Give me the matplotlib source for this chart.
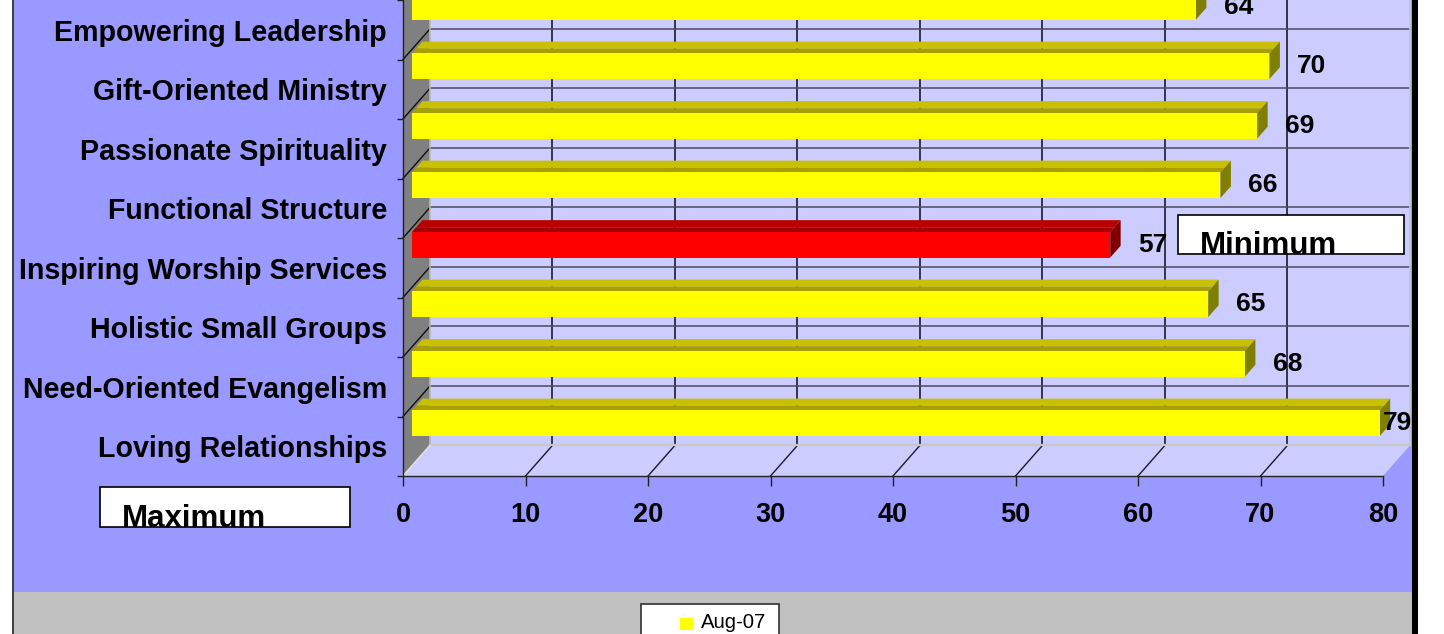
import matplotlib
matplotlib.use('Agg')
import matplotlib.pyplot as plt
from matplotlib.patches import Rectangle, Polygon
from matplotlib.lines import Line2D

# ---------------- data ----------------
categories = ['Loving Relationships', 'Need-Oriented Evangelism', 'Holistic Small Groups',
              'Inspiring Worship Services', 'Functional Structure', 'Passionate Spirituality',
              'Gift-Oriented Ministry', 'Empowering Leadership']
values = [79, 68, 65, 57, 66, 69, 70, 64]
series_name = 'Aug-07'
x_ticks = [0, 10, 20, 30, 40, 50, 60, 70, 80]
box_labels = ['Maximum', 'Minimum']

# ---------------- style ----------------
W, H = 1444, 634
plt.rcParams['font.family'] = ['Liberation Sans', 'DejaVu Sans']
BG_BLUE = '#9999FF'
WALL = '#CCCCFF'
SIDE_WALL = '#808080'
GRID = '#1a1a2a'
DX, DY = 2.2, 0.514      # full depth offset (data units)
F0, F1 = 0.333, 0.72     # bar depth range (fraction of full depth)
B0, B1 = 0.0, 0.43       # bar thickness around category
ROW_PX = 60.3
YEL = dict(front='#FFFF00', top='#C8C000', top2='#A8A000', side='#808000')
RED = dict(front='#FF0000', top='#B80000', top2='#A00000', side='#800000')

fig = plt.figure(figsize=(W / 100, H / 100), dpi=100)
fig.patch.set_facecolor('white')


def fx(px):
    return px / W


def fy(py):
    return 1 - py / H


def frect(x0, y0, x1, y1, **kw):
    r = Rectangle((fx(x0), fy(y1)), fx(x1) - fx(x0), fy(y0) - fy(y1),
                  transform=fig.transFigure, **kw)
    fig.add_artist(r)
    return r


# chart area backgrounds
frect(14, 0, 1412, 592, facecolor=BG_BLUE, edgecolor='none', zorder=-10)
frect(14, 592, 1412, 640, facecolor='#C0C0C0', edgecolor='none', zorder=-10)
frect(12, 0, 14, 640, facecolor='#404040', edgecolor='none', zorder=-9)
frect(1412, 0, 1418, 640, facecolor='black', edgecolor='none', zorder=-9)

# ---------------- axes ----------------
ax = fig.add_axes([fx(403), fy(476), fx(1383) - fx(403), 476 / H])
ax.set_xlim(0, 80)
ax.set_ylim(-0.5, -0.5 + 476 / ROW_PX)
ax.patch.set_visible(False)
TOP = 10
y0 = -0.5

# back wall
ax.add_patch(Polygon([(DX, y0 + DY), (80 + DX, y0 + DY), (80 + DX, TOP), (DX, TOP)],
                     closed=True, facecolor=WALL, edgecolor='none', clip_on=False, zorder=0.5))
# floor
ax.add_patch(Polygon([(0, y0), (80, y0), (80 + DX, y0 + DY), (DX, y0 + DY)],
                     closed=True, facecolor=WALL, edgecolor='none', clip_on=False, zorder=0.5))
# left wall
ax.add_patch(Polygon([(0, y0), (DX, y0 + DY), (DX, TOP), (0, TOP)],
                     closed=True, facecolor=SIDE_WALL, edgecolor='none', clip_on=False, zorder=0.6))

# gridlines on back wall
for t in x_ticks[1:-1]:
    ax.add_line(Line2D([t + DX, t + DX], [y0 + DY, TOP], color=GRID, lw=1.2, clip_on=False, zorder=0.8))
    ax.add_line(Line2D([t, t + DX], [y0, y0 + DY], color=GRID, lw=1.0, clip_on=False, zorder=0.8))
for k in range(1, len(categories) + 1):
    yb = k - 0.5
    ax.add_line(Line2D([DX, 80 + DX], [yb + DY, yb + DY], color='#4a4a60', lw=1.1, clip_on=False, zorder=0.8))
    ax.add_line(Line2D([0, DX], [yb, yb + DY], color='#101010', lw=1.0, clip_on=False, zorder=0.8))
# light edges
ax.add_line(Line2D([DX, 80 + DX], [y0 + DY, y0 + DY], color='#C8C8C8', lw=1.6, clip_on=False, zorder=0.85))
ax.add_line(Line2D([DX, DX], [y0 + DY, TOP], color='#B8B8B8', lw=1.2, clip_on=False, zorder=0.85))
ax.add_line(Line2D([80 + DX, 80 + DX], [y0 + DY, TOP], color='#C8C8C8', lw=1.2, clip_on=False, zorder=0.85))
ax.add_line(Line2D([0, DX], [y0, y0 + DY], color='#E0E0E0', lw=1.2, clip_on=False, zorder=0.85))

# bars
imin = values.index(min(values))
ox, oy = F0 * DX, F0 * DY
bx, by = F1 * DX, F1 * DY
Fm = F0 + 0.4 * (F1 - F0)
mx, my = Fm * DX, Fm * DY
for i, v in enumerate(values):
    c = RED if i == imin else YEL
    yb, yt = i + B0, i + B1
    # top face (two tones)
    ax.add_patch(Polygon([(mx, yt + my), (mx + v, yt + my), (bx + v, yt + by), (bx, yt + by)],
                         closed=True, facecolor=c['top'], edgecolor='none', clip_on=False, zorder=3))
    ax.add_patch(Polygon([(ox, yt + oy), (ox + v, yt + oy), (mx + v, yt + my), (mx, yt + my)],
                         closed=True, facecolor=c['top2'], edgecolor='none', clip_on=False, zorder=3))
    # side face
    ax.add_patch(Polygon([(ox + v, yb + oy), (ox + v, yt + oy), (bx + v, yt + by), (bx + v, yb + by)],
                         closed=True, facecolor=c['side'], edgecolor='none', clip_on=False, zorder=3))
    # front face
    ax.add_patch(Rectangle((ox, yb + oy), v, B1 - B0, facecolor=c['front'], edgecolor='none',
                           clip_on=False, zorder=3.1))
    # value label
    ax.text(min(v + 3.0, 80), (yb + yt) / 2 + oy, str(v), ha='left', va='center',
            fontsize=19, fontweight='bold', color='black', zorder=5, clip_on=False)

# axes, ticks
for s in ['top', 'right']:
    ax.spines[s].set_visible(False)
for s in ['left', 'bottom']:
    ax.spines[s].set_color('#222222')
    ax.spines[s].set_linewidth(1.0)
    ax.spines[s].set_zorder(2)
ax.set_xticks(x_ticks)
ax.set_xticklabels([str(t) for t in x_ticks], fontsize=19.5, fontweight='bold')
ax.tick_params(axis='x', length=7, width=1, color='#222222', pad=11.5, direction='out')
ax.set_yticks(range(len(categories)))
ax.set_yticklabels(categories, fontsize=20.6, fontweight='bold')
ax.set_yticks([k - 0.5 for k in range(len(categories) + 1)], minor=True)
ax.tick_params(axis='y', which='major', length=0, pad=11.5)
ax.tick_params(axis='y', which='minor', length=4.5, width=1, color='#222222', direction='out')

# Maximum / Minimum boxes
for (x0, y0b, x1, y1b, tx), lab in zip([(100, 487, 350, 527, 122), (1178, 215, 1404, 254, 1200)], box_labels):
    frect(x0, y0b, x1, y1b, facecolor='white', edgecolor='black', lw=1.2, zorder=6)
    fig.text(fx(tx), fy(y1b), lab, ha='left', va='baseline', fontsize=22.5,
             fontweight='bold', color='black', zorder=7)

# legend
frect(641, 604, 779, 660, facecolor='white', edgecolor='#303030', lw=1.2, zorder=6)
frect(680, 618, 693, 630, facecolor=YEL['front'], edgecolor='none', zorder=7)
fig.text(fx(701), fy(628), series_name, ha='left', va='baseline', fontsize=14.6, color='black', zorder=7)

fig.savefig('out.png', dpi=100)
